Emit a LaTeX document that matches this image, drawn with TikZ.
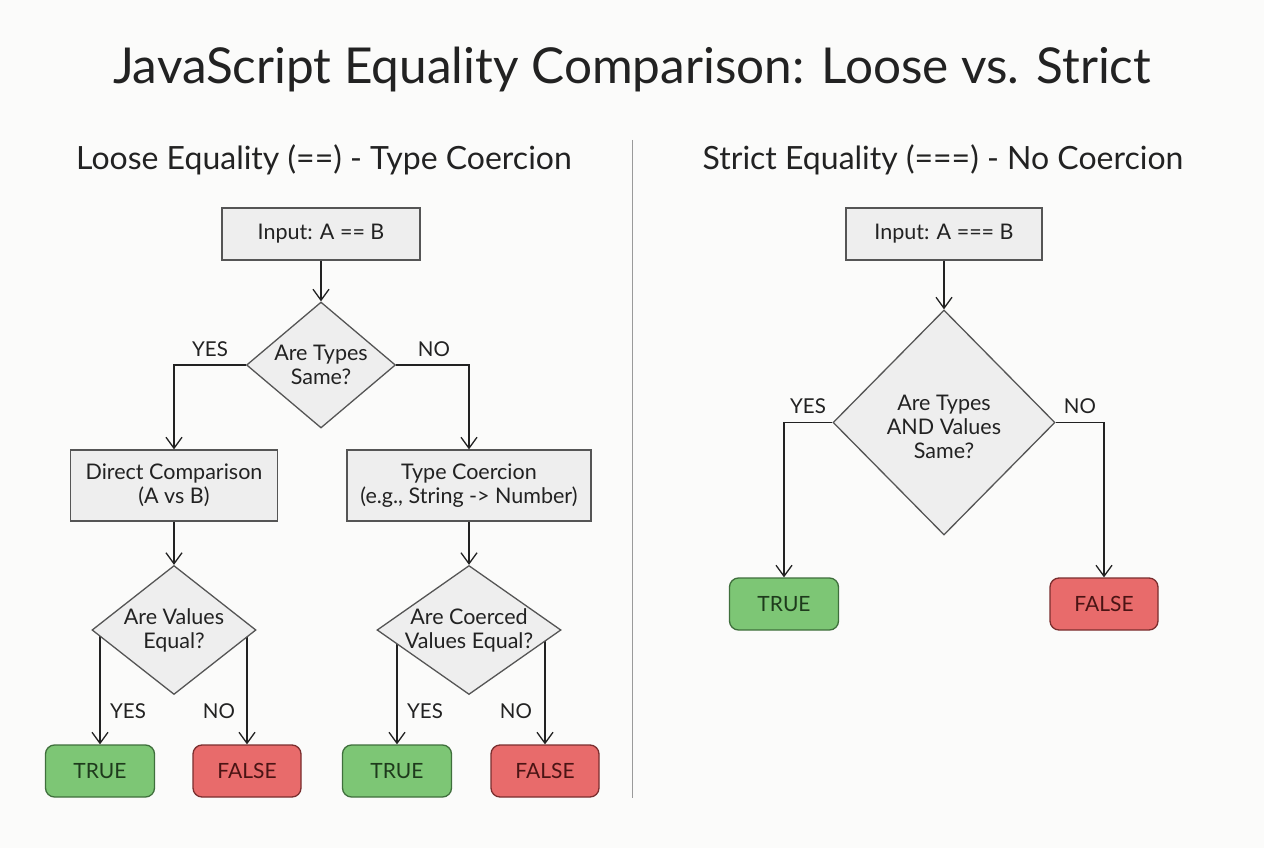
\documentclass[tikz,border=0pt]{standalone}
\usepackage{fontspec}
\setmainfont{Lato}
\usetikzlibrary{shapes.geometric,arrows.meta,calc,backgrounds}
\pgfdeclarelayer{bgfill}
\pgfsetlayers{bgfill,background,main}
\definecolor{bg}{HTML}{FBFBFA}
\definecolor{boxfill}{HTML}{EEEEEE}
\definecolor{boxline}{HTML}{555555}
\definecolor{txt}{HTML}{222222}
\definecolor{truefill}{HTML}{7DC675}
\definecolor{trueline}{HTML}{3F6F3C}
\definecolor{truetext}{HTML}{1E3A1C}
\definecolor{falsefill}{HTML}{E86B6B}
\definecolor{falseline}{HTML}{7A2E2E}
\definecolor{falsetext}{HTML}{4A1414}
\definecolor{divider}{HTML}{9A9A9A}
\begin{document}
\begin{tikzpicture}[x=1pt,y=-1pt,
  every node/.style={text=txt},
  procbox/.style={draw=boxline,fill=boxfill,line width=1.3pt,inner sep=0pt,align=center,
    font=\fontsize{21.5}{24}\selectfont},
  decide/.style={draw=boxline,fill=boxfill,line width=1.3pt,diamond,inner sep=0pt},
  dtext/.style={align=center,font=\fontsize{21.5}{24}\selectfont,text=txt},
  truebox/.style={draw=trueline,fill=truefill,line width=1.3pt,rounded corners=9pt,
    minimum width=109pt,minimum height=52pt,inner sep=0pt,text=truetext,font=\fontsize{21}{24}\selectfont},
  falsebox/.style={draw=falseline,fill=falsefill,line width=1.3pt,rounded corners=9pt,
    minimum width=108pt,minimum height=52pt,inner sep=0pt,text=falsetext,font=\fontsize{21}{24}\selectfont},
  lbl/.style={font=\fontsize{20.5}{24}\selectfont,text=txt},
  arr/.style={draw=txt,line width=1.3pt,-{Straight Barb[length=11pt,width=16pt,line width=1.3pt]}},
]
\begin{pgfonlayer}{bgfill}
\useasboundingbox[fill=bg] (0,0) rectangle (1264,848);
\end{pgfonlayer}

% titles
\node (title) at (632,70) {\fontsize{49.5}{60}\selectfont JavaScript Equality Comparison: Loose vs. Strict};
\node (subL) at (324,160) {\fontsize{32}{38}\selectfont Loose Equality (==) - Type Coercion};
\node (subR) at (943,160) {\fontsize{32}{38}\selectfont Strict Equality (===) - No Coercion};
\coordinate (divtop) at (632,140);
\coordinate (divbot) at (632,798);
\draw[divider,line width=1pt] (divtop) -- (divbot);

% ---------- left: loose ----------
\node[procbox,minimum width=198pt,minimum height=52pt] (in1) at (321,234) {Input: A == B};
\node[decide,minimum width=149pt,minimum height=126pt,
  label={[dtext]center:Are Types\\Same?}] (d1) at (321,365) {};
\node[procbox,minimum width=207pt,minimum height=71pt] (dc) at (174,485.5) {Direct Comparison\\(A vs B)};
\node[procbox,minimum width=244pt,minimum height=71pt] (tc) at (469,485.5) {Type Coercion\\(e.g., String -> Number)};
\node[decide,minimum width=164pt,minimum height=129pt,
  label={[dtext]center:Are Values\\Equal?}] (d2) at (174,630) {};
\node[decide,minimum width=184pt,minimum height=129pt,
  label={[dtext]center:Are Coerced\\Values Equal?}] (d3) at (469,630) {};
\node[truebox] (t2) at (100,771) {TRUE};
\node[falsebox] (f2) at (247,771) {FALSE};
\node[truebox] (t3) at (397,771) {TRUE};
\node[falsebox] (f3) at (545,771) {FALSE};

\draw[arr] (in1) -- (d1);
\draw[arr] (d1.west) -| (dc.north);
\draw[arr] (d1.east) -| (tc.north);
\draw[arr] (dc) -- (d2);
\draw[arr] (tc) -- (d3);
\begin{pgfonlayer}{background}
\draw[arr] (d2.west -| t2.north) -- (t2.north);
\draw[arr] (d2.east -| f2.north) -- (f2.north);
\draw[arr] (d3.west -| t3.north) -- (t3.north);
\draw[arr] (d3.east -| f3.north) -- (f3.north);
\end{pgfonlayer}

\node[lbl] (y1) at (210,349) {YES};
\node[lbl] (n1) at (434,349) {NO};
\node[lbl] (y2) at (128,711) {YES};
\node[lbl] (n2) at (219,711) {NO};
\node[lbl] (y3) at (425,711) {YES};
\node[lbl] (n3) at (516,711) {NO};

% ---------- right: strict ----------
\node[procbox,minimum width=196pt,minimum height=52pt] (in4) at (944,234) {Input: A === B};
\node[decide,minimum width=222pt,minimum height=225pt,
  label={[dtext,yshift=-4pt]center:Are Types\\AND Values\\Same?}] (d4) at (944,422.5) {};
\node[truebox] (t4) at (784,604) {TRUE};
\node[falsebox] (f4) at (1104,604) {FALSE};
\draw[arr] (in4) -- (d4);
\draw[arr] (d4.west) -| (t4.north);
\draw[arr] (d4.east) -| (f4.north);
\node[lbl] (y4) at (808,406) {YES};
\node[lbl] (n4) at (1080,406) {NO};
\end{tikzpicture}
\end{document}
